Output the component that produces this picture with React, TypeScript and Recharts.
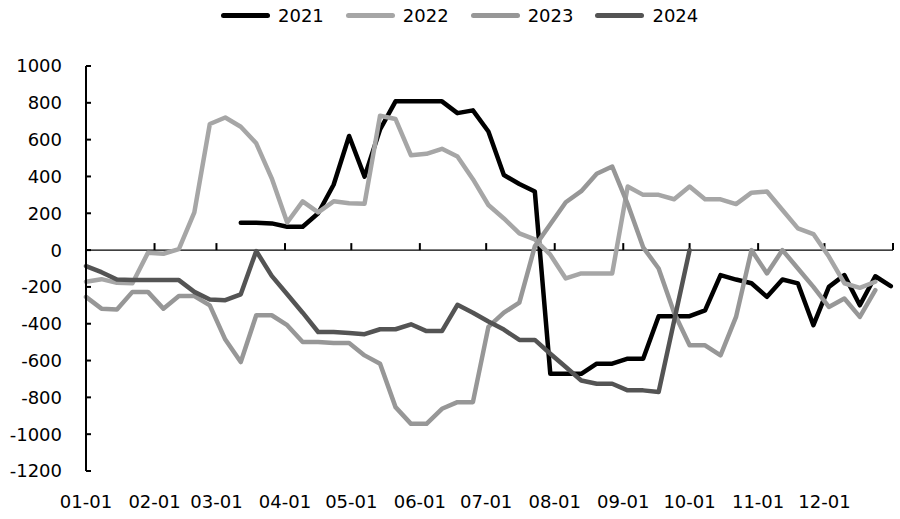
import React from "react";
import { LineChart, Line, XAxis, YAxis, ReferenceLine, Legend } from "recharts";

// weekly readings, week 0 = 01-01
const y2021 = [
  null, null, null, null, null, null, null, null, null, null,
  149, 149, 145, 127, 127, 200, 355, 620, 399, 655,
  808, 808, 808, 808, 744, 759, 644, 408, 359, 318,
  -672, -672, -672, -617, -617, -590, -590, -359, -359, -359,
  -327, -136, -160, -180, -254, -160, -181, -408, -200, -136,
  -300, -142, -196,
];
const y2022 = [
  -172, -158, -178, -180, -15, -20, 5, 205, 685, 720,
  670, 580, 390, 150, 265, 205, 265, 255, 252, 730,
  712, 515, 523, 550, 508, 385, 245, 172, 91, 58,
  -25, -154, -127, -127, -127, 345, 300, 300, 276, 345,
  276, 276, 250, 312, 318, 218, 118, 87, -35, -180,
  -205, -172, null,
];
const y2023 = [
  -254, -318, -323, -227, -227, -318, -250, -250, -300, -486,
  -608, -354, -354, -408, -499, -499, -505, -505, -572, -617,
  -853, -944, -944, -862, -826, -826, -417, -340, -285, 20,
  140, 260, 320, 415, 454, 250, 15, -100, -340, -517,
  -517, -572, -363, 0, -127, 0, -100, -200, -309, -263,
  -363, -218, null,
];
const y2024 = [
  -87, -120, -160, -163, -163, -163, -163, -227, -268, -272,
  -240, -5, -140, -240, -340, -445, -445, -450, -457, -430,
  -430, -403, -440, -440, -297, -340, -388, -432, -488, -488,
  -563, -635, -708, -726, -726, -762, -762, -771, -385, 0,
  null, null, null, null, null, null, null, null, null, null,
  null, null, null,
];

const monthLabels = ["01-01", "02-01", "03-01", "04-01", "05-01", "06-01", "07-01", "08-01", "09-01", "10-01", "11-01", "12-01"];
const monthDays = [0, 31, 59, 90, 120, 151, 181, 212, 243, 273, 304, 334];
const yTicks = [-1200, -1000, -800, -600, -400, -200, 0, 200, 400, 600, 800, 1000];

const series = [
  { key: "y2021", name: "2021", color: "#000000" },
  { key: "y2022", name: "2022", color: "#a6a6a6" },
  { key: "y2023", name: "2023", color: "#979797" },
  { key: "y2024", name: "2024", color: "#545454" },
];

const data = y2021.map((_, i) => ({
  day: i * 7,
  y2021: y2021[i],
  y2022: y2022[i],
  y2023: y2023[i],
  y2024: y2024[i],
}));

const FONT = "'DejaVu Sans', Verdana, sans-serif";

const YTick = (props: any) => {
  const { x, y, payload } = props;
  return (
    <g>
      <line x1={x + 24} x2={x + 29} y1={y} y2={y} stroke="#000" strokeWidth={2} />
      <text x={x} y={y} dy="0.36em" textAnchor="end" fontSize={18} fontFamily={FONT} fill="#000">
        {payload.value}
      </text>
    </g>
  );
};

const renderLegend = () => (
  <div style={{ display: "flex", alignItems: "center", fontFamily: FONT, fontSize: 18, color: "#000" }}>
    {series.map((s) => (
      <div key={s.key} style={{ display: "flex", alignItems: "center", marginRight: 22 }}>
        <div style={{ width: 49, height: 5, borderRadius: 3, background: s.color, marginRight: 8 }} />
        <span>{s.name}</span>
      </div>
    ))}
  </div>
);

export default function App() {
  return (
    <div style={{ position: "absolute", left: 0, top: 0, background: "#fff" }}>
      <LineChart width={900} height={519} data={data} margin={{ top: 66, right: 7, bottom: 0, left: 0 }}>
        <XAxis
          type="number"
          dataKey="day"
          domain={[0, 365]}
          ticks={monthDays}
          tickFormatter={(d: number) => monthLabels[monthDays.indexOf(d)]}
          axisLine={false}
          tickLine={false}
          height={48}
          tickMargin={18}
          interval={0}
          tick={{ fontSize: 18, fontFamily: FONT, fill: "#000" }}
        />
        <YAxis
          type="number"
          domain={[-1200, 1000]}
          ticks={yTicks}
          width={86}
          interval={0}
          axisLine={{ stroke: "#000", strokeWidth: 2 }}
          tickLine={false}
          tickMargin={18}
          tick={<YTick />}
        />
        <ReferenceLine y={0} stroke="#000" strokeWidth={1.3} />
        {monthDays.slice(1).concat([365]).map((d) => (
          <ReferenceLine
            key={d}
            segment={[{ x: d, y: 0 }, { x: d, y: 38 }]}
            stroke="#000"
            strokeWidth={2}
          />
        ))}
        <Legend
          layout="horizontal"
          verticalAlign="middle"
          align="center"
          wrapperStyle={{ top: 5, left: 221, width: 560, height: 26 }}
          content={renderLegend}
        />
        {series.map((s) => (
          <Line
            key={s.key}
            dataKey={s.key}
            name={s.name}
            stroke={s.color}
            strokeWidth={4.5}
            strokeLinejoin="round"
            strokeLinecap="round"
            dot={false}
            activeDot={false}
            type="linear"
            isAnimationActive={false}
          />
        ))}
      </LineChart>
    </div>
  );
}
